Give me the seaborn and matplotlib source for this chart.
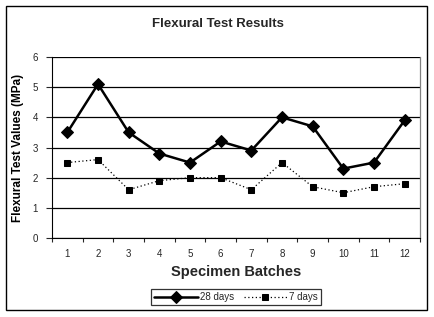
import seaborn as sns
import pandas as pd
import matplotlib.pyplot as plt
from matplotlib.patches import Rectangle

# DATA
batches = list(range(1, 13))
days_28 = [3.5, 5.1, 3.5, 2.8, 2.5, 3.2, 2.9, 4.0, 3.7, 2.3, 2.5, 3.9]
days_7 = [2.5, 2.6, 1.6, 1.9, 2.0, 2.0, 1.6, 2.5, 1.7, 1.5, 1.7, 1.8]
y_ticks = [0, 1, 2, 3, 4, 5, 6]

df = pd.DataFrame({"batch": batches * 2,
                   "value": days_28 + days_7,
                   "series": ["28 days"] * 12 + ["7 days"] * 12})

# PLOT SETTING
sns.set_style("white")
plt.rcParams['font.family'] = ['Liberation Sans', 'DejaVu Sans']

fig = plt.figure(figsize=(4.35, 3.17), dpi=100)
ax = fig.add_axes([52 / 435, 1 - 238 / 317, 368 / 435, 181 / 317])

sns.lineplot(data=df[df.series == "28 days"], x="batch", y="value", ax=ax,
             color="black", linewidth=1.8, marker="D", markersize=6.5,
             markeredgecolor="black", label="28 days")
sns.lineplot(data=df[df.series == "7 days"], x="batch", y="value", ax=ax,
             color="black", linewidth=0.9, linestyle=(0, (1, 2)), marker="s",
             markersize=4, markeredgecolor="black", label="7 days")

ax.set_xlim(0.5, 12.5)
ax.set_ylim(0, 6)
ax.set_yticks(y_ticks)
ax.set_xticks(batches)
ax.set_xticks([b + 0.5 for b in [0] + batches], minor=True)
ax.tick_params(axis="x", which="major", length=0, pad=8, labelsize=7)
ax.tick_params(axis="x", which="minor", length=3, width=0.8, direction="out", bottom=True)
ax.tick_params(axis="y", length=4, width=0.8, direction="out", left=True, labelsize=7, pad=6)
ax.yaxis.grid(True, color="black", linewidth=0.9)
ax.set_axisbelow(True)

ax.spines["right"].set_color("#808080")
ax.spines["right"].set_linewidth(0.9)
ax.spines["left"].set_color("black")
ax.spines["bottom"].set_color("black")
ax.spines["top"].set_visible(False)

ax.set_xlabel("Specimen Batches", fontsize=10.5, fontweight="bold", labelpad=4)
ax.set_ylabel("Flexural Test Values (MPa)", fontsize=8.5, fontweight="bold",
              color="black", labelpad=6)
fig.text(218 / 435, 1 - 24 / 317, "Flexural Test Results", ha="center", va="center",
         fontsize=9.5, fontweight="bold")

leg = ax.legend(loc="center", bbox_to_anchor=(236 / 435, 1 - 297 / 317),
                bbox_transform=fig.transFigure, ncol=2, fontsize=7, frameon=True,
                fancybox=False, edgecolor="black", borderpad=0.3, handlelength=4.5,
                columnspacing=1.0, handletextpad=0.2)
leg.get_frame().set_linewidth(0.9)

fig.patches.append(Rectangle((6 / 435, 1 - 310 / 317), 421 / 435, 304 / 317,
                             transform=fig.transFigure, fill=False,
                             edgecolor="black", linewidth=1))

plt.savefig("out.png", dpi=100)
plt.close()
